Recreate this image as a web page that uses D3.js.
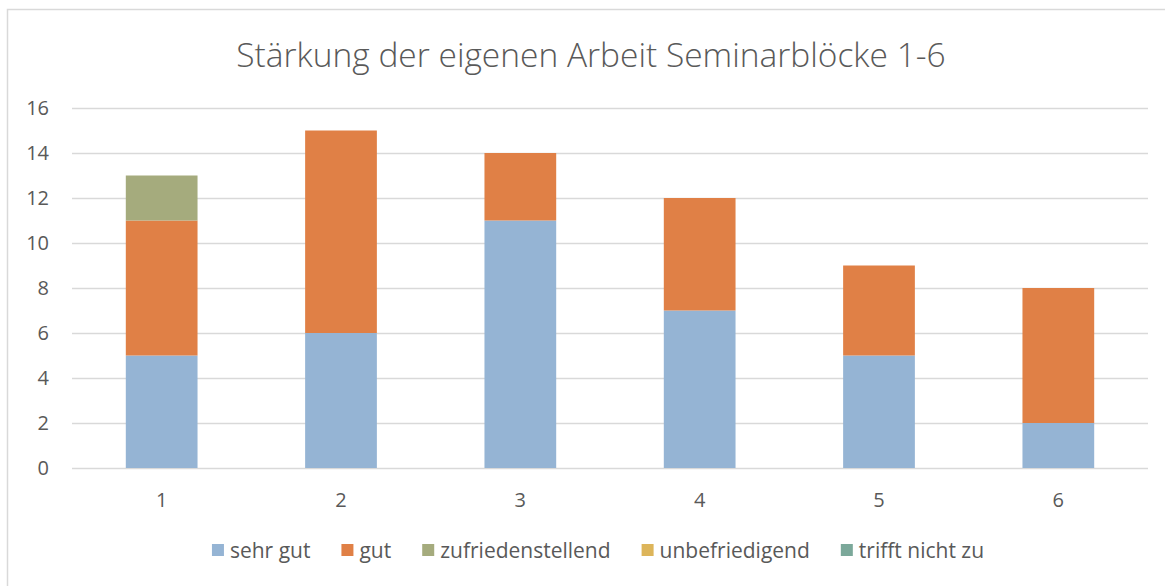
<!DOCTYPE html>
<html><head><meta charset="utf-8">
<script src="https://cdn.jsdelivr.net/npm/d3@7"></script>
<style>body{margin:0;background:#fff}svg{display:block}text{font-family:"Open Sans",sans-serif;fill:#595959}</style>
</head><body>
<svg id="c" width="1165" height="586"></svg>
<script>
const categories = ["1","2","3","4","5","6"];
const seriesNames = ["sehr gut","gut","zufriedenstellend","unbefriedigend","trifft nicht zu"];
const sehrGut = [5,6,11,7,5,2];
const gut = [6,9,3,5,4,6];
const zufrieden = [2,0,0,0,0,0];
const unbefriedigend = [0,0,0,0,0,0];
const trifftNicht = [0,0,0,0,0,0];
const yTicks = [0,2,4,6,8,10,12,14,16];
const colors = ["#95B4D4","#E08046","#A5AB7D","#DDB55A","#7BA89A"];
const title = "Stärkung der eigenen Arbeit Seminarblöcke 1-6";

const svg = d3.select("#c");
svg.append("rect").attr("x",7.5).attr("y",9.5).attr("width",1200).attr("height",600)
  .attr("fill","#fff").attr("stroke","#d9d9d9").attr("stroke-width",1.5);

const L=72,R=1148,T=108,B=468;
const x = d3.scaleBand().domain(categories).range([L,R]).paddingInner(0.6).paddingOuter(0.3);
const y = d3.scaleLinear().domain([0,16]).range([B,T]);

svg.append("g").selectAll("line").data(yTicks).join("line")
  .attr("x1",L).attr("x2",R).attr("y1",d=>y(d)+0.5).attr("y2",d=>y(d)+0.5)
  .attr("stroke","#d9d9d9").attr("stroke-width",1.3);

const rows = categories.map((c,i)=>({cat:c, s0:sehrGut[i], s1:gut[i], s2:zufrieden[i], s3:unbefriedigend[i], s4:trifftNicht[i]}));
const stack = d3.stack().keys(["s0","s1","s2","s3","s4"])(rows);
svg.append("g").selectAll("g").data(stack).join("g").attr("fill",(d,i)=>colors[i])
  .selectAll("rect").data(d=>d.filter(p=>p[1]>p[0])).join("rect")
  .attr("x",d=>x(d.data.cat)).attr("width",x.bandwidth())
  .attr("y",d=>y(d[1])).attr("height",d=>y(d[0])-y(d[1]));

const yAxis = svg.append("g").attr("transform",`translate(${L},0)`)
  .call(d3.axisLeft(y).tickValues(yTicks).tickSize(0).tickPadding(23));
yAxis.select(".domain").remove();
yAxis.selectAll("text").attr("font-size",20).attr("fill","#595959").style("font-family","Open Sans");

const xAxis = svg.append("g").attr("transform",`translate(0,${B})`)
  .call(d3.axisBottom(x).tickSize(0).tickPadding(25));
xAxis.select(".domain").remove();
xAxis.selectAll("text").attr("font-size",20).attr("fill","#595959").style("font-family","Open Sans");

svg.append("text").attr("x",591).attr("y",67).attr("text-anchor","middle")
  .attr("font-size",33.5).attr("font-weight",300).text(title);

// legend
const lg = svg.append("g");
let cx = 0;
seriesNames.forEach((n,i)=>{
  const g = lg.append("g").attr("transform",`translate(${cx},0)`);
  g.append("rect").attr("x",0).attr("y",544).attr("width",12).attr("height",12).attr("fill",colors[i]);
  const t = g.append("text").attr("x",18).attr("y",558).attr("font-size",21).text(n);
  cx += 18 + t.node().getComputedTextLength() + 31;
});
const total = cx - 31;
lg.attr("transform",`translate(${598 - total/2},0)`);
</script>
</body></html>
